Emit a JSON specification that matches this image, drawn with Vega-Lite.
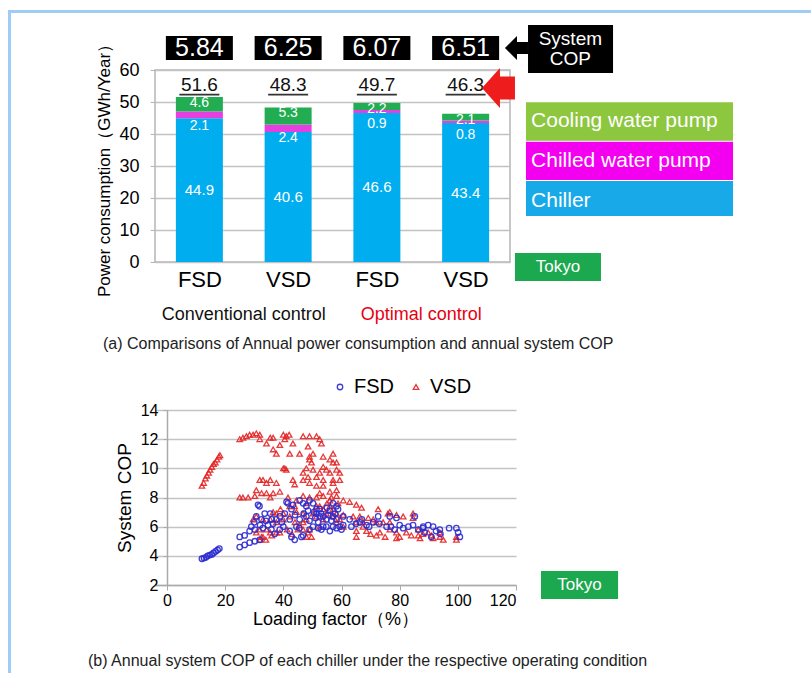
{
  "$schema": "https://vega.github.io/schema/vega-lite/v6.json",
  "padding": {"left": 5, "top": 7, "right": 0, "bottom": 0},
  "bounds": "flush",
  "spacing": 148,
  "resolve": {"scale": {"color": "independent", "shape": "independent"}, "legend": {"color": "independent", "shape": "independent"}},
  "config": {
    "font": "Liberation Sans",
    "axis": {"labelFont": "Liberation Sans", "titleFont": "Liberation Sans", "titleFontWeight": "normal", "labelColor": "#111", "titleColor": "#111"},
    "legend": {"labelFont": "Liberation Sans"}
  },
  "datasets": {
    "power": [
      {"bar": 1, "drive": "FSD", "component": "Chiller", "order": 1, "value": 44.9},
      {"bar": 1, "drive": "FSD", "component": "Chilled water pump", "order": 2, "value": 2.1},
      {"bar": 1, "drive": "FSD", "component": "Cooling water pump", "order": 3, "value": 4.6},
      {"bar": 2, "drive": "VSD", "component": "Chiller", "order": 1, "value": 40.6},
      {"bar": 2, "drive": "VSD", "component": "Chilled water pump", "order": 2, "value": 2.4},
      {"bar": 2, "drive": "VSD", "component": "Cooling water pump", "order": 3, "value": 5.3},
      {"bar": 3, "drive": "FSD", "component": "Chiller", "order": 1, "value": 46.6},
      {"bar": 3, "drive": "FSD", "component": "Chilled water pump", "order": 2, "value": 0.9},
      {"bar": 3, "drive": "FSD", "component": "Cooling water pump", "order": 3, "value": 2.2},
      {"bar": 4, "drive": "VSD", "component": "Chiller", "order": 1, "value": 43.4},
      {"bar": 4, "drive": "VSD", "component": "Chilled water pump", "order": 2, "value": 0.8},
      {"bar": 4, "drive": "VSD", "component": "Cooling water pump", "order": 3, "value": 2.1}
    ],
    "summary": [
      {"bar": 1, "total": 51.6, "cop": 5.84},
      {"bar": 2, "total": 48.3, "cop": 6.25},
      {"bar": 3, "total": 49.7, "cop": 6.07},
      {"bar": 4, "total": 46.3, "cop": 6.51}
    ],
    "scatter": [
      {"drive": "VSD", "load": 12, "cop": 8.8}, {"drive": "VSD", "load": 12.6, "cop": 9.0}, {"drive": "VSD", "load": 13.2, "cop": 9.3}, {"drive": "VSD", "load": 13.7, "cop": 9.5}, {"drive": "VSD", "load": 14.3, "cop": 9.7}, {"drive": "VSD", "load": 14.8, "cop": 9.9}, {"drive": "VSD", "load": 15.4, "cop": 10.1}, {"drive": "VSD", "load": 16, "cop": 10.3}, {"drive": "VSD", "load": 16.6, "cop": 10.4}, {"drive": "VSD", "load": 17.2, "cop": 10.6}, {"drive": "VSD", "load": 17.8, "cop": 10.8}, {"drive": "VSD", "load": 18.2, "cop": 10.9},
      {"drive": "VSD", "load": 25, "cop": 12.0}, {"drive": "VSD", "load": 26.1, "cop": 12.1}, {"drive": "VSD", "load": 27.3, "cop": 12.2}, {"drive": "VSD", "load": 28.4, "cop": 12.3}, {"drive": "VSD", "load": 29.6, "cop": 12.3}, {"drive": "VSD", "load": 30.7, "cop": 12.4}, {"drive": "VSD", "load": 31.9, "cop": 12.3}, {"drive": "VSD", "load": 31.9, "cop": 12.0}, {"drive": "VSD", "load": 34.2, "cop": 11.7}, {"drive": "VSD", "load": 35.5, "cop": 12.1}, {"drive": "VSD", "load": 36.5, "cop": 12.1}, {"drive": "VSD", "load": 40, "cop": 12.3}, {"drive": "VSD", "load": 41, "cop": 12.2}, {"drive": "VSD", "load": 42, "cop": 12.3}, {"drive": "VSD", "load": 40.5, "cop": 12.0}, {"drive": "VSD", "load": 43.3, "cop": 11.7}, {"drive": "VSD", "load": 38.8, "cop": 11.6}, {"drive": "VSD", "load": 46.8, "cop": 12.2}, {"drive": "VSD", "load": 49, "cop": 12.2}, {"drive": "VSD", "load": 51.4, "cop": 12.2}, {"drive": "VSD", "load": 52.5, "cop": 12.0}, {"drive": "VSD", "load": 53.1, "cop": 11.7},
      {"drive": "VSD", "load": 36.5, "cop": 11.3}, {"drive": "VSD", "load": 37.6, "cop": 11.0}, {"drive": "VSD", "load": 42.2, "cop": 11.0}, {"drive": "VSD", "load": 45.6, "cop": 11.0}, {"drive": "VSD", "load": 48.5, "cop": 11.5}, {"drive": "VSD", "load": 50.2, "cop": 11.0}, {"drive": "VSD", "load": 49, "cop": 10.8}, {"drive": "VSD", "load": 53.7, "cop": 10.8}, {"drive": "VSD", "load": 57.1, "cop": 11.0}, {"drive": "VSD", "load": 56, "cop": 10.6}, {"drive": "VSD", "load": 58.3, "cop": 10.4}, {"drive": "VSD", "load": 49, "cop": 10.6}, {"drive": "VSD", "load": 49.7, "cop": 10.4},
      {"drive": "VSD", "load": 40, "cop": 10.0}, {"drive": "VSD", "load": 40.5, "cop": 10.0}, {"drive": "VSD", "load": 41, "cop": 9.9}, {"drive": "VSD", "load": 47.9, "cop": 10.0}, {"drive": "VSD", "load": 50.2, "cop": 9.9}, {"drive": "VSD", "load": 52.5, "cop": 9.7}, {"drive": "VSD", "load": 53.7, "cop": 10.1}, {"drive": "VSD", "load": 57.1, "cop": 10.4}, {"drive": "VSD", "load": 58.3, "cop": 9.9}, {"drive": "VSD", "load": 59.4, "cop": 9.7}, {"drive": "VSD", "load": 54.8, "cop": 9.9}, {"drive": "VSD", "load": 56, "cop": 9.7}, {"drive": "VSD", "load": 51.4, "cop": 9.4}, {"drive": "VSD", "load": 53.7, "cop": 9.2}, {"drive": "VSD", "load": 57.1, "cop": 9.2}, {"drive": "VSD", "load": 59.4, "cop": 9.2}, {"drive": "VSD", "load": 46.8, "cop": 9.7}, {"drive": "VSD", "load": 48.5, "cop": 9.4},
      {"drive": "VSD", "load": 31.9, "cop": 9.2}, {"drive": "VSD", "load": 33, "cop": 9.2}, {"drive": "VSD", "load": 35.5, "cop": 9.2}, {"drive": "VSD", "load": 34.2, "cop": 9.0}, {"drive": "VSD", "load": 37.6, "cop": 9.0}, {"drive": "VSD", "load": 43.3, "cop": 9.2}, {"drive": "VSD", "load": 43.9, "cop": 8.9}, {"drive": "VSD", "load": 49, "cop": 9.0}, {"drive": "VSD", "load": 46.8, "cop": 9.2}, {"drive": "VSD", "load": 51.4, "cop": 8.8}, {"drive": "VSD", "load": 53.7, "cop": 8.8}, {"drive": "VSD", "load": 57.1, "cop": 9.0}, {"drive": "VSD", "load": 58.3, "cop": 8.5}, {"drive": "VSD", "load": 56, "cop": 8.4}, {"drive": "VSD", "load": 52.5, "cop": 8.3},
      {"drive": "VSD", "load": 25, "cop": 8.0}, {"drive": "VSD", "load": 26.1, "cop": 8.0}, {"drive": "VSD", "load": 27.9, "cop": 8.0}, {"drive": "VSD", "load": 30.2, "cop": 8.1}, {"drive": "VSD", "load": 30.7, "cop": 8.5}, {"drive": "VSD", "load": 32.5, "cop": 8.3}, {"drive": "VSD", "load": 34.2, "cop": 8.3}, {"drive": "VSD", "load": 35.5, "cop": 8.0}, {"drive": "VSD", "load": 36.5, "cop": 8.3}, {"drive": "VSD", "load": 38.8, "cop": 8.4}, {"drive": "VSD", "load": 41.6, "cop": 8.0}, {"drive": "VSD", "load": 44.5, "cop": 7.8}, {"drive": "VSD", "load": 46.8, "cop": 8.1}, {"drive": "VSD", "load": 49, "cop": 8.0}, {"drive": "VSD", "load": 51.4, "cop": 8.0}, {"drive": "VSD", "load": 53.7, "cop": 8.1}, {"drive": "VSD", "load": 56, "cop": 7.8}, {"drive": "VSD", "load": 58.3, "cop": 8.1}, {"drive": "VSD", "load": 60.6, "cop": 7.8}, {"drive": "VSD", "load": 62.8, "cop": 7.7}, {"drive": "VSD", "load": 65.1, "cop": 7.5}, {"drive": "VSD", "load": 66.9, "cop": 7.3},
      {"drive": "VSD", "load": 72.6, "cop": 7.2}, {"drive": "VSD", "load": 76, "cop": 6.9}, {"drive": "VSD", "load": 76.6, "cop": 7.0}, {"drive": "VSD", "load": 78.9, "cop": 6.8}, {"drive": "VSD", "load": 69.2, "cop": 6.6}, {"drive": "VSD", "load": 70.9, "cop": 6.5}, {"drive": "VSD", "load": 66.3, "cop": 6.7}, {"drive": "VSD", "load": 64, "cop": 6.7}, {"drive": "VSD", "load": 65.1, "cop": 6.3}, {"drive": "VSD", "load": 67.4, "cop": 6.3}, {"drive": "VSD", "load": 72, "cop": 6.3}, {"drive": "VSD", "load": 74.3, "cop": 6.3}, {"drive": "VSD", "load": 76.6, "cop": 6.3}, {"drive": "VSD", "load": 81.2, "cop": 6.7}, {"drive": "VSD", "load": 84.6, "cop": 6.9}, {"drive": "VSD", "load": 84.6, "cop": 6.6}, {"drive": "VSD", "load": 65.1, "cop": 5.7}, {"drive": "VSD", "load": 68.6, "cop": 5.7}, {"drive": "VSD", "load": 73.2, "cop": 5.6}, {"drive": "VSD", "load": 76.6, "cop": 5.8}, {"drive": "VSD", "load": 78.9, "cop": 5.6}, {"drive": "VSD", "load": 78.9, "cop": 5.2}, {"drive": "VSD", "load": 82.3, "cop": 5.6}, {"drive": "VSD", "load": 86.4, "cop": 5.8}, {"drive": "VSD", "load": 87, "cop": 5.2}, {"drive": "VSD", "load": 89.8, "cop": 5.6}, {"drive": "VSD", "load": 91.5, "cop": 5.2}, {"drive": "VSD", "load": 93.8, "cop": 5.3}, {"drive": "VSD", "load": 93.8, "cop": 5.6}, {"drive": "VSD", "load": 99.5, "cop": 5.1}, {"drive": "VSD", "load": 99.5, "cop": 5.3}, {"drive": "VSD", "load": 86.4, "cop": 5.4}, {"drive": "VSD", "load": 72, "cop": 5.4}, {"drive": "VSD", "load": 65.1, "cop": 5.3}, {"drive": "VSD", "load": 67.4, "cop": 6.0}, {"drive": "VSD", "load": 60.6, "cop": 6.0}, {"drive": "VSD", "load": 70, "cop": 5.5}, {"drive": "VSD", "load": 75, "cop": 5.3}, {"drive": "VSD", "load": 80, "cop": 5.3}, {"drive": "VSD", "load": 84, "cop": 5.4}, {"drive": "VSD", "load": 88, "cop": 5.5}, {"drive": "VSD", "load": 91, "cop": 5.4}, {"drive": "VSD", "load": 95, "cop": 5.1},
      {"drive": "VSD", "load": 31.9, "cop": 5.8}, {"drive": "VSD", "load": 32.5, "cop": 5.3}, {"drive": "VSD", "load": 34, "cop": 5.1}, {"drive": "VSD", "load": 36, "cop": 5.4}, {"drive": "VSD", "load": 37.6, "cop": 5.6}, {"drive": "VSD", "load": 42.2, "cop": 6.7}, {"drive": "VSD", "load": 43.9, "cop": 7.4}, {"drive": "VSD", "load": 44.5, "cop": 7.0}, {"drive": "VSD", "load": 46.8, "cop": 6.9}, {"drive": "VSD", "load": 46.8, "cop": 6.3}, {"drive": "VSD", "load": 47.9, "cop": 6.5}, {"drive": "VSD", "load": 49, "cop": 5.8}, {"drive": "VSD", "load": 49.7, "cop": 5.3}, {"drive": "VSD", "load": 51.4, "cop": 7.4}, {"drive": "VSD", "load": 52.5, "cop": 7.4}, {"drive": "VSD", "load": 53.7, "cop": 7.2}, {"drive": "VSD", "load": 54.8, "cop": 6.9}, {"drive": "VSD", "load": 56, "cop": 7.4}, {"drive": "VSD", "load": 57.1, "cop": 7.2}, {"drive": "VSD", "load": 58.3, "cop": 6.9}, {"drive": "VSD", "load": 58.8, "cop": 7.6}, {"drive": "VSD", "load": 57.1, "cop": 6.7}, {"drive": "VSD", "load": 60.6, "cop": 6.8}, {"drive": "VSD", "load": 37.6, "cop": 6.3}, {"drive": "VSD", "load": 40, "cop": 6.5}, {"drive": "VSD", "load": 41.3, "cop": 5.8}, {"drive": "VSD", "load": 38.8, "cop": 5.6}, {"drive": "VSD", "load": 35.5, "cop": 5.6}, {"drive": "VSD", "load": 34.2, "cop": 5.8}, {"drive": "VSD", "load": 33, "cop": 5.3}, {"drive": "VSD", "load": 30.7, "cop": 5.6}, {"drive": "VSD", "load": 31.9, "cop": 5.1}, {"drive": "VSD", "load": 46.8, "cop": 5.8}, {"drive": "VSD", "load": 45, "cop": 5.8}, {"drive": "VSD", "load": 47.9, "cop": 5.3}, {"drive": "VSD", "load": 48.5, "cop": 5.6}, {"drive": "VSD", "load": 42.2, "cop": 7.4}, {"drive": "VSD", "load": 40, "cop": 6.9}, {"drive": "VSD", "load": 37.6, "cop": 6.9}, {"drive": "VSD", "load": 35.5, "cop": 6.5}, {"drive": "VSD", "load": 33, "cop": 6.5}, {"drive": "VSD", "load": 30.7, "cop": 6.7}, {"drive": "VSD", "load": 29.6, "cop": 6.5}, {"drive": "VSD", "load": 51.4, "cop": 6.7}, {"drive": "VSD", "load": 53.7, "cop": 6.5}, {"drive": "VSD", "load": 52.5, "cop": 6.0}, {"drive": "VSD", "load": 58.3, "cop": 6.3}, {"drive": "VSD", "load": 59.4, "cop": 6.5}, {"drive": "VSD", "load": 50.2, "cop": 6.9}, {"drive": "VSD", "load": 45.5, "cop": 6.1}, {"drive": "VSD", "load": 48, "cop": 7.6}, {"drive": "VSD", "load": 55, "cop": 7.6}, {"drive": "VSD", "load": 56.5, "cop": 8.0}, {"drive": "VSD", "load": 43, "cop": 5.5}, {"drive": "VSD", "load": 44, "cop": 6.3}, {"drive": "VSD", "load": 39, "cop": 7.2}, {"drive": "VSD", "load": 36.5, "cop": 7.0},
      {"drive": "FSD", "load": 12, "cop": 3.8}, {"drive": "FSD", "load": 12.7, "cop": 3.85}, {"drive": "FSD", "load": 13.4, "cop": 3.9}, {"drive": "FSD", "load": 14, "cop": 4.0}, {"drive": "FSD", "load": 14.7, "cop": 4.05}, {"drive": "FSD", "load": 15.4, "cop": 4.1}, {"drive": "FSD", "load": 16, "cop": 4.2}, {"drive": "FSD", "load": 16.7, "cop": 4.3}, {"drive": "FSD", "load": 17.4, "cop": 4.4}, {"drive": "FSD", "load": 18, "cop": 4.5},
      {"drive": "FSD", "load": 25, "cop": 5.3}, {"drive": "FSD", "load": 26.7, "cop": 5.4}, {"drive": "FSD", "load": 28.4, "cop": 5.7}, {"drive": "FSD", "load": 30.2, "cop": 5.8}, {"drive": "FSD", "load": 25, "cop": 4.6}, {"drive": "FSD", "load": 26.7, "cop": 4.75}, {"drive": "FSD", "load": 28.4, "cop": 4.9}, {"drive": "FSD", "load": 30.2, "cop": 5.0}, {"drive": "FSD", "load": 31.9, "cop": 5.1}, {"drive": "FSD", "load": 30.7, "cop": 6.7}, {"drive": "FSD", "load": 31.3, "cop": 7.5}, {"drive": "FSD", "load": 31.8, "cop": 7.4}, {"drive": "FSD", "load": 32.5, "cop": 6.5}, {"drive": "FSD", "load": 33.6, "cop": 6.9}, {"drive": "FSD", "load": 35.5, "cop": 6.9}, {"drive": "FSD", "load": 33, "cop": 5.9}, {"drive": "FSD", "load": 34.7, "cop": 6.1}, {"drive": "FSD", "load": 36.5, "cop": 6.2}, {"drive": "FSD", "load": 37.6, "cop": 6.5}, {"drive": "FSD", "load": 38.8, "cop": 6.7}, {"drive": "FSD", "load": 40.5, "cop": 6.9}, {"drive": "FSD", "load": 41.1, "cop": 7.7}, {"drive": "FSD", "load": 41.6, "cop": 7.6}, {"drive": "FSD", "load": 43.3, "cop": 7.5}, {"drive": "FSD", "load": 42.8, "cop": 7.2}, {"drive": "FSD", "load": 42.2, "cop": 6.5}, {"drive": "FSD", "load": 42.2, "cop": 5.7}, {"drive": "FSD", "load": 42.8, "cop": 5.3}, {"drive": "FSD", "load": 43.9, "cop": 5.1}, {"drive": "FSD", "load": 46.8, "cop": 5.4}, {"drive": "FSD", "load": 46.2, "cop": 5.3}, {"drive": "FSD", "load": 45.6, "cop": 7.8}, {"drive": "FSD", "load": 46.8, "cop": 7.6}, {"drive": "FSD", "load": 49, "cop": 7.8}, {"drive": "FSD", "load": 47.9, "cop": 7.4}, {"drive": "FSD", "load": 50.2, "cop": 7.6}, {"drive": "FSD", "load": 51.4, "cop": 7.2}, {"drive": "FSD", "load": 52.5, "cop": 7.2}, {"drive": "FSD", "load": 51.4, "cop": 6.9}, {"drive": "FSD", "load": 52.5, "cop": 6.7}, {"drive": "FSD", "load": 53.7, "cop": 6.7}, {"drive": "FSD", "load": 54.8, "cop": 6.5}, {"drive": "FSD", "load": 53.7, "cop": 6.0}, {"drive": "FSD", "load": 54.8, "cop": 6.0}, {"drive": "FSD", "load": 53.1, "cop": 5.8}, {"drive": "FSD", "load": 57.1, "cop": 7.6}, {"drive": "FSD", "load": 58.3, "cop": 7.4}, {"drive": "FSD", "load": 58.8, "cop": 7.2}, {"drive": "FSD", "load": 57.8, "cop": 6.9}, {"drive": "FSD", "load": 57.1, "cop": 6.7}, {"drive": "FSD", "load": 58.3, "cop": 6.5}, {"drive": "FSD", "load": 57.1, "cop": 6.0}, {"drive": "FSD", "load": 58.3, "cop": 5.9}, {"drive": "FSD", "load": 59.4, "cop": 6.0}, {"drive": "FSD", "load": 60.6, "cop": 6.7}, {"drive": "FSD", "load": 62.8, "cop": 6.5}, {"drive": "FSD", "load": 63.4, "cop": 6.0}, {"drive": "FSD", "load": 66.3, "cop": 6.3}, {"drive": "FSD", "load": 68.6, "cop": 6.1}, {"drive": "FSD", "load": 70.9, "cop": 6.3}, {"drive": "FSD", "load": 72.6, "cop": 6.7}, {"drive": "FSD", "load": 75.5, "cop": 6.0}, {"drive": "FSD", "load": 76.6, "cop": 6.7}, {"drive": "FSD", "load": 78.9, "cop": 6.6}, {"drive": "FSD", "load": 81.2, "cop": 5.9}, {"drive": "FSD", "load": 84.6, "cop": 6.1}, {"drive": "FSD", "load": 85.2, "cop": 6.7}, {"drive": "FSD", "load": 86.4, "cop": 5.8}, {"drive": "FSD", "load": 88.1, "cop": 6.0}, {"drive": "FSD", "load": 89.8, "cop": 6.1}, {"drive": "FSD", "load": 91.5, "cop": 6.0}, {"drive": "FSD", "load": 93.8, "cop": 5.8}, {"drive": "FSD", "load": 99.5, "cop": 5.9}, {"drive": "FSD", "load": 100.7, "cop": 5.3}, {"drive": "FSD", "load": 100.1, "cop": 5.6}, {"drive": "FSD", "load": 88.6, "cop": 5.6}, {"drive": "FSD", "load": 90.9, "cop": 5.3}, {"drive": "FSD", "load": 78.3, "cop": 5.8}, {"drive": "FSD", "load": 60.6, "cop": 6.1}, {"drive": "FSD", "load": 40, "cop": 6.0}, {"drive": "FSD", "load": 38.8, "cop": 5.8}, {"drive": "FSD", "load": 47.9, "cop": 6.7}, {"drive": "FSD", "load": 49, "cop": 6.4}, {"drive": "FSD", "load": 50.2, "cop": 6.0}, {"drive": "FSD", "load": 49, "cop": 5.8}, {"drive": "FSD", "load": 45.6, "cop": 6.5}, {"drive": "FSD", "load": 44.5, "cop": 6.0}, {"drive": "FSD", "load": 35.9, "cop": 5.8}, {"drive": "FSD", "load": 37, "cop": 5.5},
      {"drive": "FSD", "load": 50.5, "cop": 7.0}, {"drive": "FSD", "load": 51, "cop": 6.6}, {"drive": "FSD", "load": 52, "cop": 6.3}, {"drive": "FSD", "load": 53, "cop": 6.9}, {"drive": "FSD", "load": 55.5, "cop": 6.8}, {"drive": "FSD", "load": 56, "cop": 7.1}, {"drive": "FSD", "load": 56.5, "cop": 6.4}, {"drive": "FSD", "load": 55, "cop": 7.3}, {"drive": "FSD", "load": 48.5, "cop": 7.1}, {"drive": "FSD", "load": 47, "cop": 6.9}, {"drive": "FSD", "load": 44, "cop": 6.8}, {"drive": "FSD", "load": 39.5, "cop": 6.3}, {"drive": "FSD", "load": 36, "cop": 6.5}, {"drive": "FSD", "load": 34, "cop": 6.4}, {"drive": "FSD", "load": 32, "cop": 6.1}, {"drive": "FSD", "load": 30, "cop": 6.3}, {"drive": "FSD", "load": 29, "cop": 6.0}, {"drive": "FSD", "load": 45.5, "cop": 5.9}, {"drive": "FSD", "load": 52, "cop": 5.9}, {"drive": "FSD", "load": 56, "cop": 5.7}, {"drive": "FSD", "load": 60, "cop": 5.8}, {"drive": "FSD", "load": 65, "cop": 6.2}, {"drive": "FSD", "load": 67, "cop": 6.5}, {"drive": "FSD", "load": 69.5, "cop": 6.0}, {"drive": "FSD", "load": 73, "cop": 6.2}, {"drive": "FSD", "load": 77, "cop": 6.0}, {"drive": "FSD", "load": 80, "cop": 6.1}, {"drive": "FSD", "load": 83, "cop": 6.0}, {"drive": "FSD", "load": 92.5, "cop": 5.7}, {"drive": "FSD", "load": 94, "cop": 5.5}, {"drive": "FSD", "load": 97, "cop": 5.9}, {"drive": "FSD", "load": 88, "cop": 5.9}
    ]
  },
  "vconcat": [
    {
      "width": 355,
      "height": 192,
      "view": {"stroke": "#b5b5b5", "strokeWidth": 1.5},
      "layer": [
        {
          "data": {"name": "power"},
          "transform": [{"stack": "value", "groupby": ["bar"], "sort": [{"field": "order", "order": "ascending"}], "as": ["y0", "y1"]}],
          "mark": {"type": "bar", "size": 47},
          "encoding": {
            "x": {"field": "bar", "type": "quantitative", "scale": {"domain": [0.5, 4.5], "nice": false, "zero": false, "padding": 0},
                  "axis": {"values": [1, 2, 3, 4], "tickCount": 4, "labelExpr": "datum.value % 2 == 1 ? 'FSD' : 'VSD'", "title": null, "grid": false, "ticks": false, "domain": false, "labelFontSize": 22, "labelPadding": 7, "labelColor": "#000"}},
            "y": {"field": "y0", "type": "quantitative", "scale": {"domain": [0, 60], "nice": false},
                  "axis": {"values": [0, 10, 20, 30, 40, 50, 60], "tickCount": 7, "labelOverlap": false, "title": "Power consumption（GWh/Year）", "titleFontSize": 17, "titlePadding": 5, "labelFontSize": 18, "labelPadding": 11, "tickSize": 5, "tickColor": "#b5b5b5", "domain": false, "grid": true, "gridColor": "#c2c2c2", "gridWidth": 1.5, "labelColor": "#000", "titleColor": "#000"}},
            "y2": {"field": "y1"},
            "color": {"field": "component", "type": "nominal", "scale": {"domain": ["Chiller", "Chilled water pump", "Cooling water pump"], "range": ["#00AEEF", "#E43FDF", "#22AD52"]}, "legend": null}
          }
        },
        {
          "data": {"name": "power"},
          "transform": [
            {"stack": "value", "groupby": ["bar"], "sort": [{"field": "order", "order": "ascending"}], "as": ["y0", "y1"]},
            {"filter": "datum.component === 'Chiller'"},
            {"fold": ["y0", "y1"], "as": ["k", "pos"]},
            {"aggregate": [{"op": "mean", "field": "pos", "as": "mid"}], "groupby": ["bar", "value"]}
          ],
          "mark": {"type": "text", "color": "white", "fontSize": 15, "baseline": "middle"},
          "encoding": {
            "x": {"field": "bar", "type": "quantitative"},
            "y": {"field": "mid", "type": "quantitative"},
            "text": {"field": "value", "type": "quantitative", "format": ".1f"}
          }
        },
        {
          "data": {"name": "power"},
          "transform": [
            {"stack": "value", "groupby": ["bar"], "sort": [{"field": "order", "order": "ascending"}], "as": ["y0", "y1"]},
            {"filter": "datum.component === 'Cooling water pump'"}
          ],
          "mark": {"type": "text", "color": "white", "fontSize": 14, "baseline": "top", "dy": -1},
          "encoding": {
            "x": {"field": "bar", "type": "quantitative"},
            "y": {"field": "y1", "type": "quantitative"},
            "text": {"field": "value", "type": "quantitative", "format": ".1f"}
          }
        },
        {
          "data": {"name": "power"},
          "transform": [
            {"stack": "value", "groupby": ["bar"], "sort": [{"field": "order", "order": "ascending"}], "as": ["y0", "y1"]},
            {"filter": "datum.component === 'Chilled water pump'"}
          ],
          "mark": {"type": "text", "color": "white", "fontSize": 14, "baseline": "top", "dy": 7},
          "encoding": {
            "x": {"field": "bar", "type": "quantitative"},
            "y": {"field": "y1", "type": "quantitative"},
            "text": {"field": "value", "type": "quantitative", "format": ".1f"}
          }
        },
        {
          "data": {"name": "summary"},
          "mark": {"type": "text", "color": "#111", "fontSize": 19, "baseline": "middle"},
          "encoding": {
            "x": {"field": "bar", "type": "quantitative"},
            "y": {"datum": 55.2, "type": "quantitative"},
            "text": {"field": "total", "type": "quantitative", "format": ".1f"}
          }
        },
        {
          "data": {"name": "summary"},
          "mark": {"type": "bar", "size": 40, "color": "#333"},
          "encoding": {
            "x": {"field": "bar", "type": "quantitative"},
            "y": {"datum": 52.0, "type": "quantitative"},
            "y2": {"datum": 52.6}
          }
        },
        {
          "data": {"name": "summary"},
          "mark": {"type": "bar", "size": 67, "color": "#000"},
          "encoding": {
            "x": {"field": "bar", "type": "quantitative"},
            "y": {"datum": 63.1, "type": "quantitative"},
            "y2": {"datum": 70.6}
          }
        },
        {
          "data": {"name": "summary"},
          "mark": {"type": "text", "color": "white", "fontSize": 25, "baseline": "middle"},
          "encoding": {
            "x": {"field": "bar", "type": "quantitative"},
            "y": {"datum": 66.9, "type": "quantitative"},
            "text": {"field": "cop", "type": "quantitative", "format": ".2f"}
          }
        },
        {
          "data": {"values": [{}]},
          "mark": {"type": "rect", "color": "#000"},
          "encoding": {
            "x": {"datum": 4.703, "type": "quantitative"}, "x2": {"datum": 5.661},
            "y": {"datum": 74.06, "type": "quantitative"}, "y2": {"datum": 59.06}
          }
        },
        {
          "data": {"values": [{}]},
          "mark": {"type": "text", "color": "white", "fontSize": 19, "baseline": "middle", "text": "System"},
          "encoding": {
            "x": {"datum": 5.18, "type": "quantitative"},
            "y": {"datum": 69.6, "type": "quantitative"}
          }
        },
        {
          "data": {"values": [{}]},
          "mark": {"type": "text", "color": "white", "fontSize": 19, "baseline": "middle", "text": "COP"},
          "encoding": {
            "x": {"datum": 5.18, "type": "quantitative"},
            "y": {"datum": 63.4, "type": "quantitative"}
          }
        },
        {
          "data": {"values": [{}]},
          "mark": {"type": "point", "filled": true, "opacity": 1, "color": "#000", "strokeWidth": 0, "size": 625,
                   "shape": "M-0.92,0L0.04,-0.96L0.04,-0.48L0.92,-0.48L0.92,0.48L0.04,0.48L0.04,0.96Z"},
          "encoding": {
            "x": {"datum": 4.573, "type": "quantitative"},
            "y": {"datum": 66.875, "type": "quantitative"}
          }
        },
        {
          "data": {"values": [{}]},
          "mark": {"type": "point", "filled": true, "opacity": 1, "color": "#EE1C1C", "strokeWidth": 0, "size": 1600,
                   "shape": "M-0.825,0L0.075,-1L0.075,-0.575L0.825,-0.575L0.825,0.575L0.075,0.575L0.075,1Z"},
          "encoding": {
            "x": {"datum": 4.37, "type": "quantitative"},
            "y": {"datum": 54.375, "type": "quantitative"}
          }
        },
        {
          "data": {"values": [{}]},
          "mark": {"type": "rect", "color": "#8DC63F"},
          "encoding": {
            "x": {"datum": 4.68, "type": "quantitative"}, "x2": {"datum": 7.013},
            "y": {"datum": 49.9, "type": "quantitative"}, "y2": {"datum": 37.9}
          }
        },
        {
          "data": {"values": [{}]},
          "mark": {"type": "rect", "color": "#F400F0"},
          "encoding": {
            "x": {"datum": 4.68, "type": "quantitative"}, "x2": {"datum": 7.013},
            "y": {"datum": 37.6, "type": "quantitative"}, "y2": {"datum": 25.6}
          }
        },
        {
          "data": {"values": [{}]},
          "mark": {"type": "rect", "color": "#17A9E8"},
          "encoding": {
            "x": {"datum": 4.68, "type": "quantitative"}, "x2": {"datum": 7.013},
            "y": {"datum": 25.3, "type": "quantitative"}, "y2": {"datum": 14.4}
          }
        },
        {
          "data": {"values": [{}]},
          "mark": {"type": "text", "color": "white", "fontSize": 21, "align": "left", "baseline": "middle", "text": "Cooling water pump"},
          "encoding": {"x": {"datum": 4.737, "type": "quantitative"}, "y": {"datum": 44.1, "type": "quantitative"}}
        },
        {
          "data": {"values": [{}]},
          "mark": {"type": "text", "color": "white", "fontSize": 21, "align": "left", "baseline": "middle", "text": "Chilled water pump"},
          "encoding": {"x": {"datum": 4.737, "type": "quantitative"}, "y": {"datum": 31.6, "type": "quantitative"}}
        },
        {
          "data": {"values": [{}]},
          "mark": {"type": "text", "color": "white", "fontSize": 21, "align": "left", "baseline": "middle", "text": "Chiller"},
          "encoding": {"x": {"datum": 4.737, "type": "quantitative"}, "y": {"datum": 19.1, "type": "quantitative"}}
        },
        {
          "data": {"values": [{}]},
          "mark": {"type": "rect", "color": "#1BA84E"},
          "encoding": {
            "x": {"datum": 4.556, "type": "quantitative"}, "x2": {"datum": 5.525},
            "y": {"datum": 2.8, "type": "quantitative"}, "y2": {"datum": -5.9}
          }
        },
        {
          "data": {"values": [{}]},
          "mark": {"type": "text", "color": "white", "fontSize": 17, "baseline": "middle", "text": "Tokyo"},
          "encoding": {"x": {"datum": 5.04, "type": "quantitative"}, "y": {"datum": -1.56, "type": "quantitative"}}
        },
        {
          "data": {"values": [{}]},
          "mark": {"type": "text", "color": "#111", "fontSize": 18, "baseline": "middle", "text": "Conventional control"},
          "encoding": {"x": {"datum": 1.5, "type": "quantitative"}, "y": {"datum": -16.6, "type": "quantitative"}}
        },
        {
          "data": {"values": [{}]},
          "mark": {"type": "text", "color": "#E60012", "fontSize": 18, "baseline": "middle", "text": "Optimal control"},
          "encoding": {"x": {"datum": 3.5, "type": "quantitative"}, "y": {"datum": -16.6, "type": "quantitative"}}
        },
        {
          "data": {"values": [{}]},
          "mark": {"type": "text", "color": "#222", "fontSize": 16, "align": "left", "baseline": "middle", "text": "(a) Comparisons of Annual power consumption and annual system COP"},
          "encoding": {"x": {"datum": -0.086, "type": "quantitative"}, "y": {"datum": -25.6, "type": "quantitative"}}
        },
        {
          "data": {"values": [{}]},
          "mark": {"type": "rule", "color": "#9FCBF5", "strokeWidth": 3},
          "encoding": {"x": {"datum": -1.139, "type": "quantitative"}, "y": {"datum": 78.75, "type": "quantitative"}, "y2": {"datum": -128.4}}
        },
        {
          "data": {"values": [{}]},
          "mark": {"type": "rule", "color": "#9FCBF5", "strokeWidth": 3},
          "encoding": {"x": {"datum": -1.156, "type": "quantitative"}, "x2": {"datum": 7.89}, "y": {"datum": 78.28, "type": "quantitative"}}
        }
      ]
    },
    {
      "width": 361,
      "height": 175,
      "view": {"stroke": null},
      "layer": [
        {
          "data": {"name": "scatter"},
          "mark": {"type": "point", "filled": false, "size": 30, "strokeWidth": 1.3, "opacity": 0.9},
          "encoding": {
            "x": {"field": "load", "type": "quantitative", "scale": {"domain": [-4.13, 120], "nice": false, "zero": false},
                  "axis": {"values": [0, 20, 40, 60, 80, 100, 120], "tickCount": 7, "labelOverlap": false, "title": "Loading factor（%）", "titleFontSize": 18, "titlePadding": 2, "labelFontSize": 16, "labelPadding": 2, "tickSize": 5, "tickColor": "#aaa", "domainColor": "#aaa", "domainWidth": 1.5, "grid": false, "labelColor": "#000", "titleColor": "#000"}},
            "y": {"field": "cop", "type": "quantitative", "scale": {"domain": [2, 14], "nice": false, "zero": false},
                  "axis": {"values": [2, 4, 6, 8, 10, 12, 14], "tickCount": 7, "labelOverlap": false, "offset": -12, "title": "System COP", "titleFontSize": 19, "titlePadding": 6, "labelFontSize": 16, "labelPadding": 5, "tickSize": 4, "tickColor": "#aaa", "domainColor": "#aaa", "domainWidth": 1.5, "grid": true, "gridColor": "#c4c4c4", "gridWidth": 1.5, "labelColor": "#000", "titleColor": "#000"}},
            "color": {"field": "drive", "type": "nominal", "scale": {"domain": ["FSD", "VSD"], "range": ["#2B2BD0", "#E52424"]},
                      "legend": {"orient": "none", "legendX": 175, "legendY": -33, "direction": "horizontal", "title": null, "labelFontSize": 20, "symbolSize": 30, "symbolStrokeWidth": 1.3, "columnPadding": 12, "labelOffset": 4, "padding": 0, "labelColor": "#000"}},
            "shape": {"field": "drive", "type": "nominal", "scale": {"domain": ["FSD", "VSD"], "range": ["circle", "triangle-up"]},
                      "legend": {"orient": "none", "legendX": 175, "legendY": -33, "direction": "horizontal", "title": null, "labelFontSize": 20, "symbolSize": 30, "symbolStrokeWidth": 1.3, "columnPadding": 12, "labelOffset": 4, "padding": 0, "labelColor": "#000"}}
          }
        },
        {
          "data": {"values": [{}]},
          "mark": {"type": "rect", "color": "#1BA84E"},
          "encoding": {
            "x": {"datum": 128.6, "type": "quantitative"}, "x2": {"datum": 155.1},
            "y": {"datum": 2.96, "type": "quantitative"}, "y2": {"datum": 1.04}
          }
        },
        {
          "data": {"values": [{}]},
          "mark": {"type": "text", "color": "white", "fontSize": 17, "baseline": "middle", "text": "Tokyo"},
          "encoding": {"x": {"datum": 141.85, "type": "quantitative"}, "y": {"datum": 2.0, "type": "quantitative"}}
        },
        {
          "data": {"values": [{}]},
          "mark": {"type": "text", "color": "#222", "fontSize": 16, "align": "left", "baseline": "middle", "text": "(b) Annual system COP of each chiller under the respective operating condition"},
          "encoding": {"x": {"datum": -27.17, "type": "quantitative"}, "y": {"datum": -3.215, "type": "quantitative"}}
        }
      ]
    }
  ]
}
